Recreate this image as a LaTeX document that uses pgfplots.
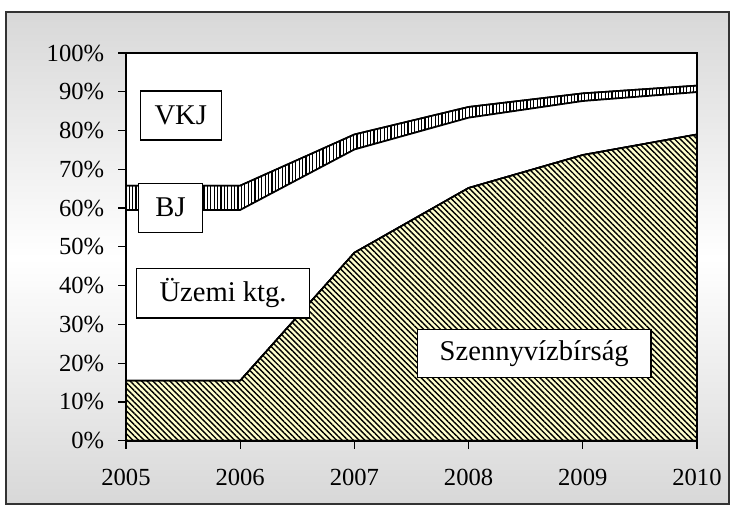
\documentclass[border=0pt]{standalone}
\usepackage{fontspec}
\setmainfont{Liberation Serif}
\usepackage{pgfplots}
\pgfplotsset{compat=1.18}
\usetikzlibrary{patterns.meta}
\definecolor{hatchbg}{RGB}{255,255,204}
\definecolor{framegray}{RGB}{216,216,216}

\begin{document}
\begin{tikzpicture}
\path[use as bounding box] (-63pt,-35.15pt) rectangle (305pt,220.35pt);
% outer chart frame with gray gradient
\shade[top color=framegray, bottom color=framegray, middle color=white]
  (-60pt,-31.65pt) rectangle (301.5pt,214.35pt);
\draw[black!80, line width=0.6pt] (-60pt,-31.65pt) rectangle (301.5pt,214.35pt);
\begin{axis}[
  scale only axis,
  width=285.5pt,
  height=193.85pt,
  xmin=2005, xmax=2010,
  ymin=0, ymax=100,
  stack plots=y,
  axis on top,
  axis background/.style={fill=white},
  axis line style={black, line width=0.8pt},
  tick style={black, line width=0.6pt},
  tick align=outside,
  tick pos=left,
  major tick length=4pt,
  xtick={2005,2006,2007,2008,2009,2010},
  ytick={0,10,20,30,40,50,60,70,80,90,100},
  /pgf/number format/assume math mode=true,
  /pgf/number format/1000 sep={},
  tick label style={font=\fontsize{12.3}{14}\selectfont},
  xticklabel style={yshift=-6.8pt},
  yticklabel style={anchor=east, xshift=-3.4pt},
  yticklabel={\pgfmathprintnumber{\tick}\%},
]
% Szennyvizbirsag
\addplot[draw=black, line width=0.8pt, fill=hatchbg,
  postaction={pattern={Lines[angle=-45,distance=2pt,line width=0.7pt]}}]
  coordinates {(2005,15.5) (2006,15.5) (2007,48.5) (2008,65.2) (2009,73.7) (2010,79)} \closedcycle;
% Uzemi ktg.
\addplot[draw=black, line width=0.8pt, fill=white]
  coordinates {(2005,44) (2006,44) (2007,26.6) (2008,18.1) (2009,13.9) (2010,10.9)} \closedcycle;
% BJ
\addplot[draw=black, line width=0.8pt, fill=white,
  postaction={pattern={Lines[angle=90,distance=1.7pt,line width=0.6pt]}}]
  coordinates {(2005,6.3) (2006,6.3) (2007,3.9) (2008,2.8) (2009,2.0) (2010,1.7)} \closedcycle;

\coordinate (vkj) at (axis cs:2005.48,83.9);
\coordinate (bj) at (axis cs:2005.39,60.1);
\coordinate (uz) at (axis cs:2005.85,38.0);
\coordinate (sz) at (axis cs:2008.575,22.5);
\end{axis}
\tikzset{lbl/.style={draw=black, fill=white, line width=0.6pt, inner sep=0pt,
  font=\fontsize{14.3}{16}\selectfont}}
\node[lbl, minimum width=40.5pt, minimum height=24.5pt] at (vkj) {VKJ};
\node[lbl, minimum width=32pt, minimum height=24.5pt] at (bj) {BJ};
\node[lbl, minimum width=86.7pt, minimum height=24.7pt] at (uz) {Üzemi ktg.};
\node[lbl, minimum width=116.7pt, minimum height=24.2pt] at (sz) {Szennyvízbírság};
\end{tikzpicture}
\end{document}
